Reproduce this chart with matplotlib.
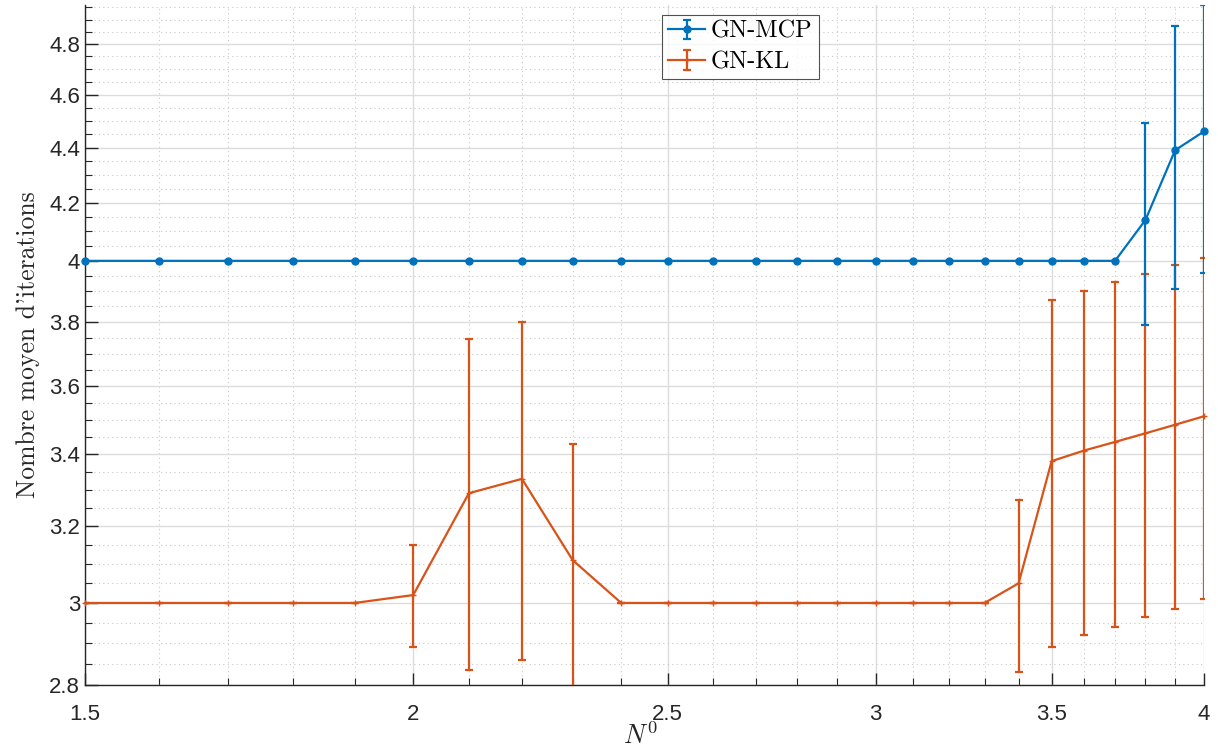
import matplotlib
matplotlib.use('Agg')
import matplotlib.pyplot as plt
import matplotlib.ticker as mticker
from matplotlib.legend_handler import HandlerErrorbar
import numpy as np

plt.rcParams['mathtext.fontset'] = 'cm'

# ============================================
# DATA
# ============================================
n0 = [1.5, 1.6, 1.7, 1.8, 1.9, 2.0, 2.1, 2.2, 2.3, 2.4, 2.5, 2.6, 2.7,
      2.8, 2.9, 3.0, 3.1, 3.2, 3.3, 3.4, 3.5, 3.6, 3.7, 3.8, 3.9, 4.0]

mcp_mean = [4, 4, 4, 4, 4, 4, 4, 4, 4, 4, 4, 4, 4,
            4, 4, 4, 4, 4, 4, 4, 4, 4, 4, 4.14, 4.39, 4.46]
mcp_err = [0, 0, 0, 0, 0, 0, 0, 0, 0, 0, 0, 0, 0,
           0, 0, 0, 0, 0, 0, 0, 0, 0, 0, 0.35, 0.485, 0.50]

kl_mean = [3, 3, 3, 3, 3, 3.02, 3.29, 3.33, 3.11, 3, 3, 3, 3,
           3, 3, 3, 3, 3, 3, 3.05, 3.38, 3.41, 3.435, 3.46, 3.485, 3.51]
kl_err = [0, 0, 0, 0, 0, 0.13, 0.455, 0.47, 0.32, 0, 0, 0, 0,
          0, 0, 0, 0, 0, 0, 0.22, 0.49, 0.49, 0.495, 0.495, 0.50, 0.50]

x_ticks = [1.5, 2, 2.5, 3, 3.5, 4]
y_ticks = [2.8, 3, 3.2, 3.4, 3.6, 3.8, 4, 4.2, 4.4, 4.6, 4.8]

blue = '#0072BD'
orange = '#D95319'

# ============================================
# PLOT
# ============================================
fig = plt.figure(figsize=(12.18, 7.53), dpi=100)
ax = fig.add_axes([0.0698, 0.0903, 0.9187, 0.903])

mcp = ax.errorbar(n0, mcp_mean, yerr=mcp_err, color=blue, marker='o', markersize=5,
                  linewidth=1.6, elinewidth=1.6, capsize=3, capthick=1.6,
                  label='GN-MCP', zorder=4)
kl = ax.errorbar(n0, kl_mean, yerr=kl_err, color=orange, marker='+', markersize=4,
                 linewidth=1.6, elinewidth=1.6, capsize=3, capthick=1.6,
                 label='GN-KL', zorder=3)
for container in (mcp, kl):
    container[0].set_clip_on(False)

ax.set_xscale('log')
ax.set_yscale('log')
ax.set_xlim(1.5, 4)
ax.set_ylim(2.8, 4.96)

ax.xaxis.set_major_locator(mticker.FixedLocator(x_ticks))
ax.xaxis.set_major_formatter(mticker.FixedFormatter([f'{v:g}' for v in x_ticks]))
ax.xaxis.set_minor_locator(mticker.FixedLocator(np.arange(1.5, 4.01, 0.1)))
ax.xaxis.set_minor_formatter(mticker.NullFormatter())

ax.yaxis.set_major_locator(mticker.FixedLocator(y_ticks))
ax.yaxis.set_major_formatter(mticker.FixedFormatter([f'{v:g}' for v in y_ticks]))
ax.yaxis.set_minor_locator(mticker.FixedLocator(np.arange(2.8, 4.96, 0.05)))
ax.yaxis.set_minor_formatter(mticker.NullFormatter())

ax.grid(True, which='major', color='#dcdcdc', linewidth=1.0, linestyle='-')
ax.grid(True, which='minor', color='#c8c8c8', linewidth=0.8, linestyle=(0, (1, 3)))
ax.set_axisbelow(True)

for side in ['top', 'right']:
    ax.spines[side].set_visible(False)
for side in ['left', 'bottom']:
    ax.spines[side].set_color('#262626')
    ax.spines[side].set_linewidth(1.0)

ax.tick_params(which='major', direction='in', length=9, width=1.0,
               colors='#262626', labelsize=16)
ax.tick_params(which='minor', direction='in', length=5, width=0.8,
               colors='#262626')
ax.tick_params(axis='x', pad=14)
for lbl in ax.get_xticklabels() + ax.get_yticklabels():
    lbl.set_fontfamily('Liberation Sans')

ax.set_xlabel(r'$N^0$', fontsize=19, color='#262626')
ax.xaxis.set_label_coords(0.496, -0.057)
ax.set_ylabel("Nombre moyen d'iterations", fontsize=18.5, family='cmr10',
              color='#262626', labelpad=7)

leg = ax.legend(loc='upper left', bbox_to_anchor=(0.516, 0.986),
                prop={'family': 'cmr10', 'size': 17.5}, frameon=True,
                fancybox=False, edgecolor='#262626', borderpad=0.25,
                handlelength=1.5, handletextpad=0.25, labelspacing=0.35,
                borderaxespad=0,
                handler_map={type(mcp): HandlerErrorbar(xerr_size=0.4, yerr_size=0.4)})
leg.get_frame().set_linewidth(0.8)

fig.savefig('out.png', dpi=100)
print("Saved out.png")
